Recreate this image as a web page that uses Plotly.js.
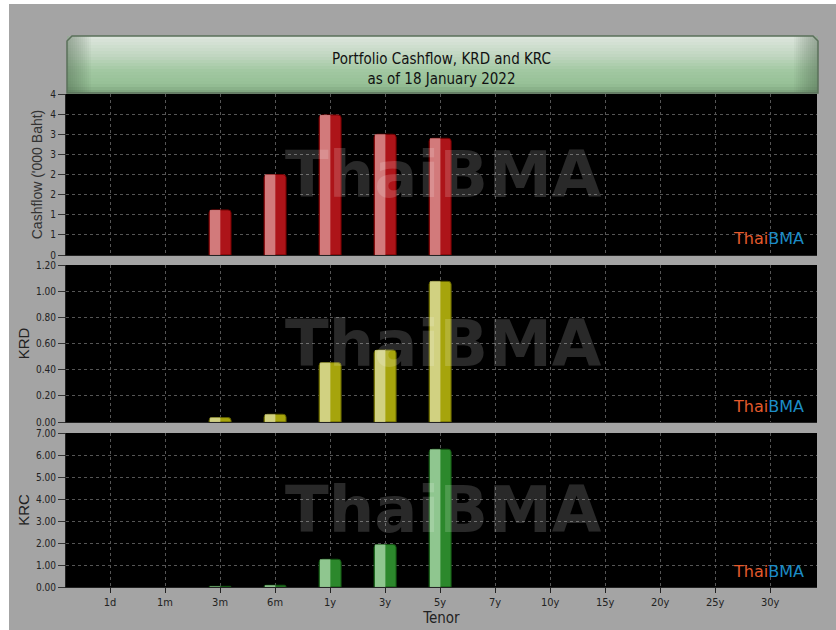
<!DOCTYPE html>
<html><head><meta charset="utf-8">
<script src="https://cdn.plot.ly/plotly-3.0.1.min.js"></script>
<style>html,body{margin:0;padding:0;background:#fff}#chart{width:836px;height:630px}</style>
</head><body><div id="chart"></div>
<script>
// ---- data ----
const tenors = ['1d','1m','3m','6m','1y','3y','5y','7y','10y','15y','20y','25y','30y'];
const cashflow = [0,0,1.12,2.0,3.48,3.0,2.9,0,0,0,0,0,0];
const krd = [0,0,0.034,0.059,0.454,0.55,1.075,0,0,0,0,0,0];
const krc = [0,0,0.03,0.08,1.26,1.93,6.26,0,0,0,0,0,0];
const titleText = 'Portfolio Cashflow, KRD and KRC<br>as of 18 January 2022';
const yTitles = ["Cashflow ('000 Baht)", 'KRD', 'KRC'];
const xTitle = 'Tenor';
const watermark = 'ThaiBMA';

// ---- geometry helpers (pixel -> paper) ----
const L = 66, R = 817, T = 94, B = 587;
const PX = p => (p - L) / (R - L);
const PY = p => (B - p) / (B - T);

const narrow = 'Liberation Sans Narrow, DejaVu Sans Condensed, Arial Narrow, sans-serif';
const sans = 'Liberation Sans, Arial, sans-serif';

const panels = [
  {y: cashflow, dark: '#ad1419', light: 'rgba(225,165,165,0.7)', line: '#6e0000', xa: 'x', ya: 'y'},
  {y: krd, dark: '#a6a40c', light: 'rgba(228,228,180,0.7)', line: '#5e5d00', xa: 'x2', ya: 'y2'},
  {y: krc, dark: '#2c882c', light: 'rgba(185,225,185,0.7)', line: '#125212', xa: 'x3', ya: 'y3'}
];

const traces = [];
panels.forEach(p => {
  traces.push({type: 'bar', x: tenors, y: p.y, xaxis: p.xa, yaxis: p.ya, width: 0.4, offset: -0.2,
    marker: {color: p.dark, line: {color: p.line, width: p.y.map(v => v > 0 ? 1 : 0)}, cornerradius: 3},
    hoverinfo: 'x+y', showlegend: false});
  traces.push({type: 'bar', x: tenors, y: p.y, xaxis: p.xa, yaxis: p.ya, width: 0.19, offset: -0.185,
    marker: {color: p.light, line: {width: 0}}, hoverinfo: 'skip', showlegend: false});
});

const grid = {showgrid: true, gridcolor: '#555555', griddash: 'dot', gridwidth: 1, zeroline: false};
const xBase = Object.assign({type: 'category', categoryorder: 'array', categoryarray: tenors,
  range: [-0.8, 12.85], showline: true, linecolor: '#222', fixedrange: true}, grid);
const yBase = Object.assign({ticks: 'outside', ticklen: 7, tickcolor: '#333', showline: true, linecolor: '#222',
  tickfont: {family: narrow, size: 10, color: '#222'}}, grid);

const layout = {
  width: 836, height: 630,
  margin: {l: L, r: 836 - R, t: T, b: 630 - B},
  paper_bgcolor: '#a4a4a4', plot_bgcolor: '#000000',
  barmode: 'overlay', showlegend: false,
  title: {text: titleText, x: 0.5, xref: 'paper', xanchor: 'center', y: 1 - 64/630, yref: 'container', yanchor: 'middle',
    font: {family: narrow, size: 15, color: '#111'}},
  xaxis: Object.assign({}, xBase, {anchor: 'y', matches: 'x3', showticklabels: false, ticks: ''}),
  xaxis2: Object.assign({}, xBase, {anchor: 'y2', matches: 'x3', showticklabels: false, ticks: ''}),
  xaxis3: Object.assign({}, xBase, {anchor: 'y3', ticks: 'outside', ticklen: 5, tickcolor: '#222',
    tickfont: {family: narrow, size: 11, color: '#222'},
    title: {text: xTitle, standoff: 2, font: {family: narrow, size: 15, color: '#222'}}}),
  yaxis: Object.assign({}, yBase, {domain: [PY(255), 1], range: [0, 4], dtick: 0.5, tickformat: '.0f',
    title: {text: yTitles[0], standoff: 4, font: {family: sans, size: 14, color: '#333'}}}),
  yaxis2: Object.assign({}, yBase, {domain: [PY(422), PY(265)], range: [0, 1.2], dtick: 0.2, tickformat: '.2f',
    title: {text: yTitles[1], standoff: 2, font: {family: sans, size: 15, color: '#222'}}}),
  yaxis3: Object.assign({}, yBase, {domain: [0, PY(433)], range: [0, 7], dtick: 1, tickformat: '.2f',
    title: {text: yTitles[2], standoff: 2, font: {family: sans, size: 15, color: '#222'}}}),
  shapes: [],
  annotations: []
};

// white outer strips
layout.shapes.push({type: 'rect', xref: 'paper', yref: 'paper', x0: PX(0), x1: PX(9), y0: PY(630), y1: PY(0), fillcolor: '#ffffff', line: {width: 0}, layer: 'above'});
layout.shapes.push({type: 'rect', xref: 'paper', yref: 'paper', x0: PX(0), x1: PX(836), y0: PY(4), y1: PY(0), fillcolor: '#ffffff', line: {width: 0}, layer: 'above'});

// title box with vertical gradient
const bx0 = 67, bx1 = 818, by0 = 36, by1 = 93;
const stops = [[0, [222,230,222]], [0.35, [192,214,192]], [0.6, [162,200,162]], [0.85, [150,192,150]], [1, [125,162,125]]];
function col(t) {
  for (let i = 1; i < stops.length; i++) {
    if (t <= stops[i][0]) {
      const a = stops[i-1], b = stops[i], f = (t - a[0]) / (b[0] - a[0]);
      const c = a[1].map((v, k) => Math.round(v + (b[1][k] - v) * f));
      return 'rgb(' + c.join(',') + ')';
    }
  }
  return 'rgb(' + stops[stops.length-1][1].join(',') + ')';
}
const N = 19;
for (let i = 0; i < N; i++) {
  const ya = by0 + (by1 - by0) * i / N, yb = by0 + (by1 - by0) * (i + 1) / N;
  layout.shapes.push({type: 'rect', xref: 'paper', yref: 'paper', x0: PX(bx0), x1: PX(bx1), y0: PY(yb + 0.5), y1: PY(ya),
    fillcolor: col((i + 0.5) / N), line: {width: 0}, layer: 'above'});
}
// smooth side shading
for (let k = 0; k < 12; k++) {
  const w = 2 + k * 2;
  const cshade = 'rgba(70,100,70,0.045)';
  layout.shapes.push({type: 'rect', xref: 'paper', yref: 'paper', x0: PX(bx0), x1: PX(bx0 + w), y0: PY(by1), y1: PY(by0), fillcolor: cshade, line: {width: 0}, layer: 'above'});
  layout.shapes.push({type: 'rect', xref: 'paper', yref: 'paper', x0: PX(bx1 - w), x1: PX(bx1), y0: PY(by1), y1: PY(by0), fillcolor: cshade, line: {width: 0}, layer: 'above'});
}
// border with chamfered corners
const c = 5;
const path = 'M' + PX(bx0) + ',' + PY(by1) + ' L' + PX(bx0) + ',' + PY(by0 + c) + ' L' + PX(bx0 + c) + ',' + PY(by0) +
  ' L' + PX(bx1 - c) + ',' + PY(by0) + ' L' + PX(bx1) + ',' + PY(by0 + c) + ' L' + PX(bx1) + ',' + PY(by1) + ' Z';
layout.shapes.push({type: 'path', xref: 'paper', yref: 'paper', path: path, line: {color: '#5a705a', width: 1.5}, layer: 'above'});

// watermarks and logos
['y', 'y2', 'y3'].forEach((ya, i) => {
  const xa = ['x', 'x2', 'x3'][i];
  layout.annotations.push({text: '<b>' + watermark + '</b>', xref: xa + ' domain', yref: ya + ' domain', x: 0.503, y: 0.5,
    xanchor: 'center', yanchor: 'middle', showarrow: false,
    font: {family: 'DejaVu Sans, Verdana, sans-serif', size: 64, color: 'rgba(255,255,255,0.16)'}});
  layout.annotations.push({text: '<span style="color:#e45a2c">Thai</span><span style="color:#1c8cc6">BMA</span>',
    xref: xa + ' domain', yref: ya + ' domain', x: (806 - L) / (R - L), y: 0.1,
    xanchor: 'right', yanchor: 'middle', showarrow: false,
    font: {family: 'DejaVu Sans, Verdana, sans-serif', size: 16}});
});

Plotly.newPlot('chart', traces, layout, {displayModeBar: false, staticPlot: true});
</script></body></html>
